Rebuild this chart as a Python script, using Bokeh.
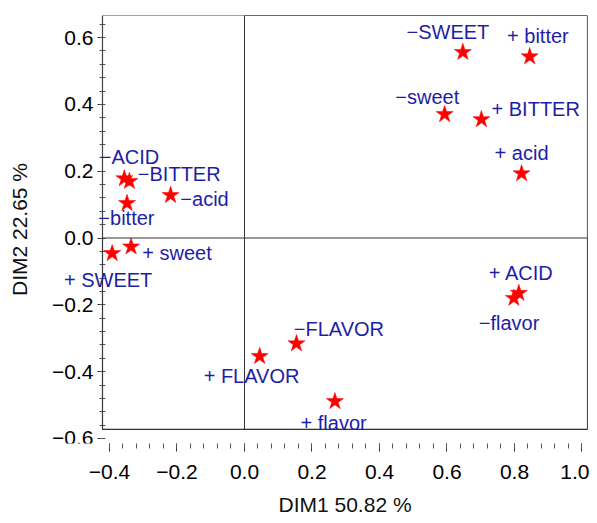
from bokeh.plotting import figure
from bokeh.models import (Range1d, FixedTicker, CustomJSTickFormatter, Label,
                          BoxAnnotation, LinearAxis, Title)
from bokeh.embed import file_html
from bokeh.resources import INLINE
import numpy as np

# ---- data ----
star_x = [0.647, 0.845, 0.593, 0.702, 0.821, -0.356, -0.341, -0.219, -0.348,
          -0.392, -0.336, 0.813, 0.798, 0.045, 0.154, 0.268]
star_y = [0.556, 0.543, 0.370, 0.355, 0.193, 0.178, 0.170, 0.128, 0.104,
          -0.046, -0.026, -0.165, -0.180, -0.354, -0.316, -0.489]

label_text = ["\u2212SWEET", "+ bitter", "\u2212sweet", "+ BITTER", "+ acid",
              "\u2212ACID", "\u2212BITTER", "\u2212acid", "\u2212bitter",
              "+ sweet", "+ SWEET", "+ ACID", "\u2212flavor",
              "\u2212FLAVOR", "+ FLAVOR", "+ flavor"]
label_x = [0.480, 0.778, 0.447, 0.732, 0.741,
           -0.429, -0.316, -0.190, -0.433,
           -0.303, -0.535, 0.724, 0.694,
           0.146, -0.121, 0.166]
label_y = [0.616, 0.604, 0.422, 0.387, 0.255,
           0.243, 0.191, 0.116, 0.059,
           -0.046, -0.125, -0.104, -0.253,
           -0.272, -0.414, -0.553]

x_ticks = [-0.4, -0.2, 0.0, 0.2, 0.4, 0.6, 0.8, 1.0]
y_ticks = [-0.6, -0.4, -0.2, 0.0, 0.2, 0.4, 0.6]
x_title = "DIM1 50.82 %"
y_title = "DIM2 22.65 %"

FONT = "Liberation Sans"
BLUE = "#1e1ea6"
FRAME_LEFT = -0.4207
FRAME_RIGHT = 1.0163
FRAME_BOTTOM = -0.573
FRAME_TOP = 0.666

p = figure(frame_width=547, frame_height=428,
           min_border_left=40, min_border_top=15, min_border_right=2, min_border_bottom=20,
           x_range=Range1d(-0.6044, FRAME_RIGHT), y_range=Range1d(-0.615, FRAME_TOP),
           output_backend="svg", toolbar_location=None)
p.grid.visible = False
p.outline_line_color = None
p.background_fill_color = "white"
p.border_fill_color = "white"

# frame box and zero lines (box edges)
p.add_layout(BoxAnnotation(left=FRAME_LEFT, bottom=FRAME_BOTTOM, fill_alpha=0,
                           line_color="#444444", line_width=1.2, line_alpha=1))
p.add_layout(BoxAnnotation(left=0, bottom=FRAME_BOTTOM, fill_alpha=0,
                           line_color="#333333", line_width=1, line_alpha=1))
p.add_layout(BoxAnnotation(left=FRAME_LEFT, bottom=FRAME_BOTTOM, top=0, fill_alpha=0,
                           line_color="#333333", line_width=1, line_alpha=1))

# stars
p.scatter(star_x, star_y, marker="star", size=18, fill_color="#ff0000",
          line_color="#ff0000", line_width=0.5)

# labels
for t, lx, ly in zip(label_text, label_x, label_y):
    p.add_layout(Label(x=lx, y=ly, text=t, text_align="left", text_baseline="middle",
                       text_color=BLUE, text_font=FONT, text_font_size="20px"))

fmt = CustomJSTickFormatter(code="return (tick < -1e-9 ? '\u2212' : '') + Math.abs(tick).toFixed(1);")

xminor = [round(v, 2) for v in np.arange(-0.4, 1.0001, 0.04)]
yminor = [round(v, 2) for v in np.arange(-0.6, 0.66, 0.04)]

xa = p.xaxis[0]
xa.ticker = FixedTicker(ticks=x_ticks, minor_ticks=xminor)
xa.formatter = fmt
xa.axis_line_color = None
xa.major_tick_in = 0
xa.major_tick_out = 8
xa.minor_tick_in = 0
xa.minor_tick_out = 5
xa.major_tick_line_color = "#333333"
xa.minor_tick_line_color = "#555555"
xa.major_label_text_font = FONT
xa.major_label_text_font_size = "21px"
xa.major_label_text_color = "black"
xa.major_label_standoff = 13

# x axis title, placed under the boxed part of the plot
p.add_layout(Title(text=x_title, align="left", offset=238, text_font=FONT,
                   text_font_size="21px", text_font_style="normal",
                   text_color="#111111", standoff=19), "below")

# y axis: ticks and tick labels sit on the frame's left edge
ya = p.yaxis[0]
ya.fixed_location = FRAME_LEFT
ya.ticker = FixedTicker(ticks=y_ticks, minor_ticks=yminor)
ya.formatter = fmt
ya.axis_line_color = None
ya.major_tick_in = 0
ya.major_tick_out = 5
ya.minor_tick_in = 3
ya.minor_tick_out = 3
ya.major_tick_line_color = "#333333"
ya.minor_tick_line_color = "#555555"
ya.major_label_text_font = FONT
ya.major_label_text_font_size = "21px"
ya.major_label_text_color = "black"
ya.major_label_standoff = 4

# y axis title in the left margin
yt = LinearAxis(ticker=FixedTicker(ticks=[]), axis_line_color=None,
                major_tick_out=0, major_tick_in=0, minor_tick_out=0, minor_tick_in=0,
                axis_label=y_title, axis_label_text_font=FONT,
                axis_label_text_font_size="21px", axis_label_text_font_style="normal",
                axis_label_text_color="#111111", axis_label_standoff=10)
p.add_layout(yt, "left")

open("out.html", "w").write(file_html(p, INLINE))
